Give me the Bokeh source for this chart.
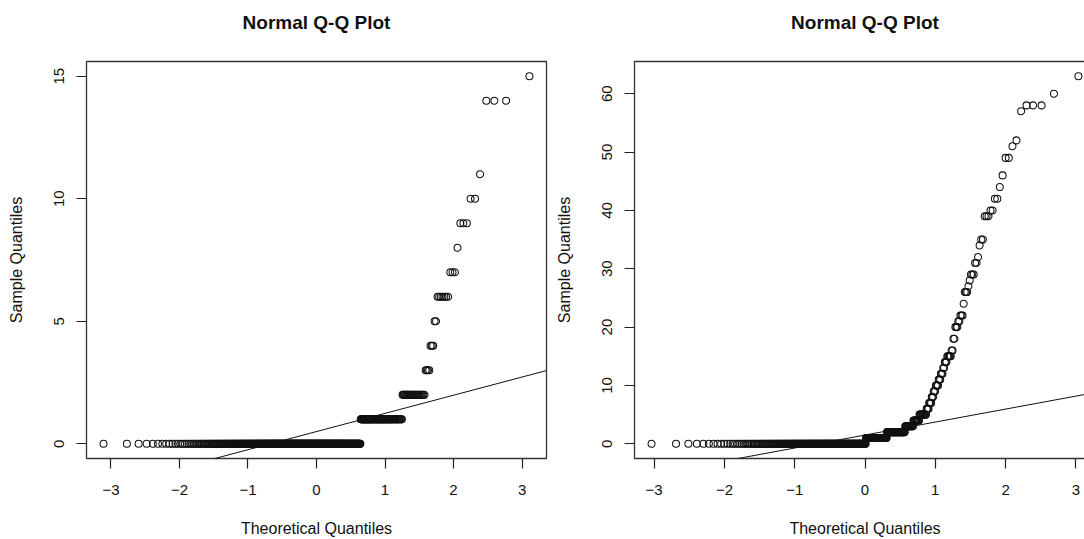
from statistics import NormalDist
import numpy as np
from bokeh.plotting import figure
from bokeh.layouts import row
from bokeh.models import Slope, FixedTicker, Range1d, Title
from bokeh.embed import file_html
from bokeh.resources import INLINE

# ---- data (distinct sample values and how many times each occurs) ----
left_values = [0, 1, 2, 3, 4, 5, 6, 7, 8, 9, 10, 11, 14, 15]
left_counts = [393, 82, 26, 4, 3, 2, 7, 3, 1, 3, 2, 1, 3, 1]
left_yticks = [0, 5, 10, 15]

right_values = [0, 1, 2, 3, 4, 5, 6, 7, 8, 9, 10, 11, 12, 13, 14, 15, 16, 18, 20, 21,
                22, 24, 26, 27, 28, 29, 31, 32, 34, 35, 39, 40, 42, 44, 46, 49, 51, 52,
                57, 58, 60, 63]
right_counts = [211, 49, 39, 16, 11, 12, 4, 4, 3, 3, 4, 3, 3, 2, 3, 5, 2, 2, 3, 2,
                3, 1, 3, 1, 1, 3, 2, 1, 1, 2, 3, 2, 2, 1, 1, 2, 1, 1,
                1, 3, 1, 1]
right_yticks = [0, 10, 20, 30, 40, 50, 60]

xticks = [-3, -2, -1, 0, 1, 2, 3]
title_text = "Normal Q-Q Plot"
xlabel = "Theoretical Quantiles"
ylabel = "Sample Quantiles"

nd = NormalDist()
FONT = "Liberation Sans"


def qq(values, counts):
    y = np.repeat(np.array(values, dtype=float), counts)
    n = len(y)
    p = (np.arange(1, n + 1) - 0.5) / n          # ppoints(n)
    x = np.array([nd.inv_cdf(float(v)) for v in p])
    return x, y


def pad(a):
    lo, hi = float(np.min(a)), float(np.max(a))
    r = hi - lo
    return lo - 0.04 * r, hi + 0.04 * r


def make(values, counts, yticks, width, height, bl, br, bt, bb):
    x, y = qq(values, counts)
    x0, x1 = pad(x)
    y0, y1 = pad(y)
    p = figure(width=width, height=height, output_backend="svg", toolbar_location=None,
               x_range=Range1d(x0, x1), y_range=Range1d(y0, y1),
               min_border_left=bl, min_border_right=br, min_border_top=bt,
               min_border_bottom=bb, background_fill_color="white",
               border_fill_color="white")
    p.grid.visible = False
    p.outline_line_color = "#333333"
    p.outline_line_width = 1.3
    try:
        p.title = None
    except Exception:
        p.title.text = ""
        p.title.standoff = 0
        p.title.text_font_size = "0px"

    # a blank title used as a spacer between the frame and the visible title
    p.add_layout(Title(text=" ", text_font_size="10px", standoff=16,
                       text_color="white"), "above")
    p.add_layout(Title(text=title_text, align="center", text_font=FONT,
                       text_font_style="bold", text_font_size="19px",
                       text_color="#111111", standoff=0), "above")

    xa = p.below[0]
    ya = p.left[0]

    p.scatter(x, y, marker="circle", size=7, fill_color=None,
              line_color="#111111", line_width=1.05)

    # qqline through the quartiles
    q1, q3 = np.quantile(y, [0.25, 0.75])
    t1, t3 = nd.inv_cdf(0.25), nd.inv_cdf(0.75)
    slope = (q3 - q1) / (t3 - t1)
    icpt = q1 - slope * t1
    p.add_layout(Slope(gradient=slope, y_intercept=icpt, line_color="#111111",
                       line_width=1.0))

    for ax in (xa, ya):
        ax.axis_line_color = None
        ax.major_tick_line_color = "#222222"
        ax.major_tick_line_width = 1.2
        ax.major_tick_out = 10
        ax.major_tick_in = 0
        ax.minor_tick_line_color = None
        ax.major_label_text_font = FONT
        ax.major_label_text_font_size = "15px"
        ax.major_label_text_color = "#111111"
        ax.axis_label_text_font = FONT
        ax.axis_label_text_font_size = "16px"
        ax.axis_label_text_font_style = "normal"
        ax.axis_label_text_color = "#111111"
    xa.ticker = FixedTicker(ticks=xticks)
    ya.ticker = FixedTicker(ticks=yticks)
    xa.axis_label = xlabel
    ya.axis_label = ylabel
    xa.major_label_standoff = 16
    xa.axis_label_standoff = 22
    ya.major_label_orientation = "vertical"
    ya.major_label_standoff = 12
    ya.axis_label_standoff = 27
    return p


left = make(left_values, left_counts, left_yticks, 550, 543, 86, 4, 61, 84)
right = make(right_values, right_counts, right_yticks, 553, 543, 84, 8, 60, 85)

layout = row(left, right, spacing=0)
open("out.html", "w").write(file_html(layout, INLINE))
